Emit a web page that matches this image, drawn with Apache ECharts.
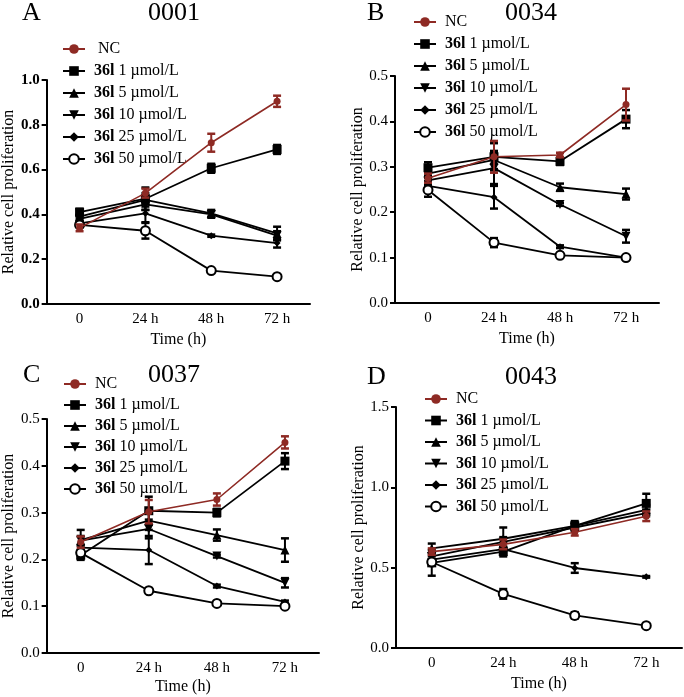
<!DOCTYPE html>
<html><head><meta charset="utf-8">
<script src="https://cdn.jsdelivr.net/npm/echarts@6/dist/echarts.min.js"></script>
<style>html,body{margin:0;padding:0;background:#fff}#c{width:684px;height:697px}</style>
</head><body><div id="c"></div>
<script>
const categories = ['0', '24 h', '48 h', '72 h'];
const seriesLabels = ['NC', '1 µmol/L', '5 µmol/L', '10 µmol/L', '25 µmol/L', '50 µmol/L'];
const compound = '36l';

// Panel A: 0001
const A_NC  = [0.34, 0.495, 0.72, 0.905];   const A_NC_err  = [0.015, 0.02, 0.04, 0.025];
const A_1   = [0.41, 0.47, 0.606, 0.69];    const A_1_err   = [0.015, 0.05, 0.02, 0.02];
const A_5   = [0.39, 0.465, 0.405, 0.315];  const A_5_err   = [0.01, 0.03, 0.015, 0.03];
const A_10  = [0.38, 0.445, 0.40, 0.305];   const A_10_err  = [0.01, 0.025, 0.015, 0.02];
const A_25  = [0.36, 0.405, 0.305, 0.272];  const A_25_err  = [0.01, 0.04, 0.005, 0.02];
const A_50  = [0.353, 0.327, 0.149, 0.122]; const A_50_err  = [0.01, 0.035, 0.005, 0.005];

// Panel B: 0034
const B_NC  = [0.275, 0.322, 0.326, 0.437]; const B_NC_err  = [0.01, 0.035, 0.005, 0.035];
const B_1   = [0.298, 0.322, 0.312, 0.405]; const B_1_err   = [0.012, 0.03, 0.008, 0.02];
const B_5   = [0.285, 0.315, 0.255, 0.24];  const B_5_err   = [0.01, 0.02, 0.008, 0.012];
const B_10  = [0.27, 0.297, 0.217, 0.147];  const B_10_err  = [0.01, 0.035, 0.003, 0.014];
const B_25  = [0.258, 0.233, 0.124, 0.10];  const B_25_err  = [0.01, 0.025, 0.003, 0.003];
const B_50  = [0.249, 0.133, 0.105, 0.10];  const B_50_err  = [0.015, 0.01, 0.005, 0.005];

// Panel C: 0037
const C_NC  = [0.237, 0.302, 0.328, 0.45];  const C_NC_err  = [0.012, 0.025, 0.013, 0.013];
const C_1   = [0.209, 0.304, 0.30, 0.41];   const C_1_err   = [0.01, 0.03, 0.008, 0.017];
const C_5   = [0.241, 0.283, 0.252, 0.22];  const C_5_err   = [0.022, 0.02, 0.012, 0.025];
const C_10  = [0.24, 0.265, 0.207, 0.15];   const C_10_err  = [0.01, 0.02, 0.003, 0.01];
const C_25  = [0.225, 0.22, 0.143, 0.109];  const C_25_err  = [0.005, 0.03, 0.003, 0.003];
const C_50  = [0.214, 0.133, 0.106, 0.10];  const C_50_err  = [0.003, 0.003, 0.003, 0.003];

// Panel D: 0043
const D_NC  = [0.60, 0.645, 0.72, 0.82];    const D_NC_err  = [0.02, 0.03, 0.02, 0.03];
const D_1   = [0.53, 0.60, 0.76, 0.90];     const D_1_err   = [0.08, 0.03, 0.02, 0.06];
const D_5   = [0.62, 0.68, 0.76, 0.86];     const D_5_err   = [0.03, 0.07, 0.03, 0.03];
const D_10  = [0.57, 0.66, 0.75, 0.84];     const D_10_err  = [0.02, 0.03, 0.02, 0.02];
const D_25  = [0.55, 0.615, 0.498, 0.443];  const D_25_err  = [0.02, 0.01, 0.03, 0.005];
const D_50  = [0.535, 0.337, 0.203, 0.139]; const D_50_err  = [0.01, 0.03, 0.02, 0.005];

const panelTitles = ['0001', '0034', '0037', '0043'];
const panelLetters = ['A', 'B', 'C', 'D'];
const yMax = [1.0, 0.5, 0.5, 1.5];
const yInterval = [0.2, 0.1, 0.1, 0.5];

const panelData = [
  [[A_NC, A_NC_err], [A_1, A_1_err], [A_5, A_5_err], [A_10, A_10_err], [A_25, A_25_err], [A_50, A_50_err]],
  [[B_NC, B_NC_err], [B_1, B_1_err], [B_5, B_5_err], [B_10, B_10_err], [B_25, B_25_err], [B_50, B_50_err]],
  [[C_NC, C_NC_err], [C_1, C_1_err], [C_5, C_5_err], [C_10, C_10_err], [C_25, C_25_err], [C_50, C_50_err]],
  [[D_NC, D_NC_err], [D_1, D_1_err], [D_5, D_5_err], [D_10, D_10_err], [D_25, D_25_err], [D_50, D_50_err]]
];

const RED = '#8e2a24';
const FONT = '"Liberation Serif", "Times New Roman", serif';

const grids = [
  {left: 45, top: 80, width: 265, height: 224},
  {left: 395, top: 76, width: 264, height: 227},
  {left: 44, top: 419, width: 275, height: 234},
  {left: 396, top: 407, width: 286, height: 241}
];
const titlePos = [
  [{left: 22, top: 0}, {left: 148, top: 0}],
  [{left: 367, top: 0}, {left: 505, top: 0}],
  [{left: 23, top: 362}, {left: 148, top: 362}],
  [{left: 367, top: 364}, {left: 505, top: 364}]
];
const legendPos = [
  {left: 62, top: 41, itemGap: 6},
  {left: 413, top: 14, itemGap: 6},
  {left: 63, top: 376, itemGap: 5},
  {left: 424, top: 391, itemGap: 5.5}
];

const styles = [
  {symbol: 'circle', symbolSize: 7, color: RED, fill: RED, border: 0, rotate: 0},
  {symbol: 'rect', symbolSize: 9, color: '#000', fill: '#000', border: 0, rotate: 0},
  {symbol: 'triangle', symbolSize: 9, color: '#000', fill: '#000', border: 0, rotate: 0},
  {symbol: 'triangle', symbolSize: 9, color: '#000', fill: '#000', border: 0, rotate: 180},
  {symbol: 'diamond', symbolSize: 7, color: '#000', fill: '#000', border: 0, rotate: 0},
  {symbol: 'circle', symbolSize: 9, color: '#000', fill: '#fff', border: 2, rotate: 0}
];

function errRender(color) {
  return function (params, api) {
    const x = api.value(0), y = api.value(1), e = api.value(2);
    const hi = api.coord([x, y + e]);
    const lo = api.coord([x, y - e]);
    const w = 4;
    return {
      type: 'group',
      children: [
        {type: 'line', shape: {x1: hi[0], y1: hi[1], x2: lo[0], y2: lo[1]}, style: {stroke: color, lineWidth: 2}},
        {type: 'line', shape: {x1: hi[0] - w, y1: hi[1], x2: hi[0] + w, y2: hi[1]}, style: {stroke: color, lineWidth: 2.5}},
        {type: 'line', shape: {x1: lo[0] - w, y1: lo[1], x2: lo[0] + w, y2: lo[1]}, style: {stroke: color, lineWidth: 2.5}}
      ]
    };
  };
}

const option = {
  animation: false,
  backgroundColor: '#fff',
  title: [], legend: [], grid: [], xAxis: [], yAxis: [], series: []
};

for (let p = 0; p < 4; p++) {
  option.grid.push(grids[p]);
  option.title.push({text: panelLetters[p], left: titlePos[p][0].left, top: titlePos[p][0].top, padding: 0,
    textStyle: {fontFamily: FONT, fontSize: 26, fontWeight: 'normal', color: '#000'}});
  option.title.push({text: panelTitles[p], left: titlePos[p][1].left, top: titlePos[p][1].top, padding: 0,
    textStyle: {fontFamily: FONT, fontSize: 26, fontWeight: 'normal', color: '#000'}});
  option.xAxis.push({
    type: 'category', gridIndex: p, data: categories, boundaryGap: true,
    name: 'Time (h)', nameLocation: 'middle', nameGap: p === 2 ? 26 : 28,
    nameTextStyle: {fontFamily: FONT, fontSize: 16, color: '#000', verticalAlign: 'top'},
    axisLine: {lineStyle: {color: '#000', width: 2}},
    axisTick: {alignWithLabel: true, length: 5, lineStyle: {color: '#000', width: 2}},
    axisLabel: {fontFamily: FONT, fontSize: 15, color: '#000', margin: 8},
    splitLine: {show: false}
  });
  option.yAxis.push({
    type: 'value', gridIndex: p, min: 0, max: yMax[p], interval: yInterval[p],
    name: 'Relative cell proliferation', nameLocation: 'middle', nameGap: 28,
    nameTextStyle: {fontFamily: FONT, fontSize: 16, color: '#000'},
    axisLine: {show: true, lineStyle: {color: '#000', width: 2}},
    axisTick: {show: true, length: 5, lineStyle: {color: '#000', width: 2}},
    axisLabel: {fontFamily: FONT, fontSize: 15, color: '#000', margin: 7,
      fontWeight: p === 0 ? 'bold' : 'normal',
      formatter: v => v.toFixed(1)},
    splitLine: {show: false}
  });
  const names = [];
  const order = [1, 2, 3, 4, 5, 0];
  for (const s of order) {
    const st = styles[s];
    const name = panelLetters[p] + ':' + seriesLabels[s];
    names.push(name);
    const vals = panelData[p][s][0];
    const errs = panelData[p][s][1];
    option.series.push({
      type: 'custom', xAxisIndex: p, yAxisIndex: p,
      renderItem: errRender(st.color),
      data: vals.map((v, i) => [i, v, errs[i]]),
      encode: {x: 0, y: 1}, z: s === 0 ? 4 : 2, silent: true
    });
    option.series.push({
      type: 'line', name: name, xAxisIndex: p, yAxisIndex: p,
      data: vals,
      symbol: st.symbol, symbolSize: st.symbolSize, symbolRotate: st.rotate,
      showAllSymbol: true,
      lineStyle: {color: st.color, width: s === 0 ? 1.6 : 1.8},
      itemStyle: {color: st.fill, borderColor: st.color, borderWidth: st.border},
      z: s === 0 ? 5 : 3
    });
  }
  names.sort((a, b) => seriesLabels.indexOf(a.split(':')[1]) - seriesLabels.indexOf(b.split(':')[1]));
  option.legend.push({
    orient: 'vertical', left: legendPos[p].left, top: legendPos[p].top, padding: 0,
    itemGap: legendPos[p].itemGap, itemWidth: 22, itemHeight: 12,
    data: names,
    selectedMode: false,
    formatter: function (n) {
      const base = n.split(':')[1];
      if (base === 'NC') return (p === 0 ? '  ' : ' ') + 'NC';
      return ' {b|' + compound + '} ' + base;
    },
    textStyle: {fontFamily: FONT, fontSize: 16, color: '#000', lineHeight: 16,
      rich: {b: {fontFamily: FONT, fontSize: 16, fontWeight: 'bold', color: '#000', lineHeight: 16}}}
  });
}

const chart = echarts.init(document.getElementById('c'), null, {renderer: 'canvas'});
chart.setOption(option);
</script></body></html>
